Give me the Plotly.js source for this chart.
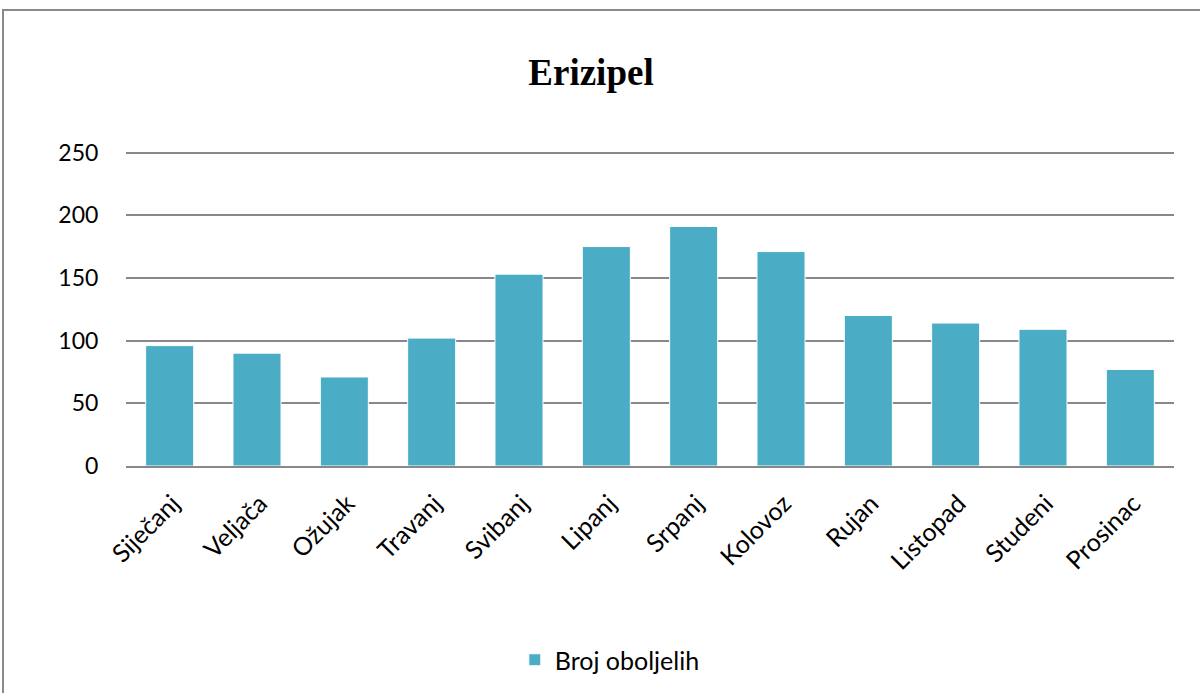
<!DOCTYPE html>
<html>
<head>
<meta charset="utf-8">
<script src="https://cdn.plot.ly/plotly-3.0.1.min.js"></script>
<style>
  html, body { margin: 0; padding: 0; overflow: hidden; background: #fff; }
  #chart { width: 1200px; height: 693px; }
  #frame { position: absolute; left: 2px; top: 9px; width: 1300px; height: 800px;
           border: 2px solid #8a8a8a; pointer-events: none; }
</style>
</head>
<body>
<div id="chart"></div>
<div id="frame"></div>
<script>
const months = ["Siječanj", "Veljača", "Ožujak", "Travanj", "Svibanj", "Lipanj",
                "Srpanj", "Kolovoz", "Rujan", "Listopad", "Studeni", "Prosinac"];
const cases = [96, 90, 71, 102, 153, 175, 191, 171, 120, 114, 109, 77];
const seriesName = "Broj oboljelih";
const chartTitle = "Erizipel";
const yTicks = [0, 50, 100, 150, 200, 250];

const trace = {
  type: "bar",
  x: months,
  y: cases,
  name: seriesName,
  marker: { color: "#4BACC6", line: { color: "#ffffff", width: 1 } },
  hoverinfo: "x+y"
};

const layout = {
  width: 1200,
  height: 693,
  margin: { l: 126, r: 26, t: 150, b: 226 },
  paper_bgcolor: "#ffffff",
  plot_bgcolor: "#ffffff",
  bargap: 0.45,
  showlegend: true,
  title: {
    text: "<b>" + chartTitle + "</b>",
    font: { family: "Liberation Serif, Times New Roman, serif", size: 37, color: "#000" },
    x: 0.4925, xref: "container", xanchor: "center",
    y: 1 - 72 / 693, yref: "container", yanchor: "middle"
  },
  xaxis: {
    type: "category",
    tickangle: -45,
    tickfont: { family: "Lato, Open Sans, sans-serif", size: 25, color: "#000" },
    ticklabelshift: 3,
    ticklabelstandoff: 11,
    showgrid: false,
    showline: true,
    linecolor: "#888888",
    linewidth: 2,
    ticks: "",
    automargin: false
  },
  yaxis: {
    range: [0, 252],
    tickvals: yTicks,
    ticktext: yTicks.map(String),
    tickfont: { family: "Lato, Open Sans, sans-serif", size: 23, color: "#000" },
    showgrid: true,
    gridcolor: "#888888",
    gridwidth: 2,
    zeroline: false,
    showline: false,
    ticks: "outside",
    ticklen: 22,
    tickcolor: "rgba(0,0,0,0)",
    automargin: false
  },
  legend: {
    orientation: "h",
    x: 0.371, xanchor: "left",
    y: (467 - 660) / 317, yanchor: "middle",
    font: { family: "Lato, Open Sans, sans-serif", size: 25, color: "#000" },
    bgcolor: "rgba(0,0,0,0)"
  }
};

Plotly.newPlot("chart", [trace], layout, { displayModeBar: false, staticPlot: true });
</script>
</body>
</html>
